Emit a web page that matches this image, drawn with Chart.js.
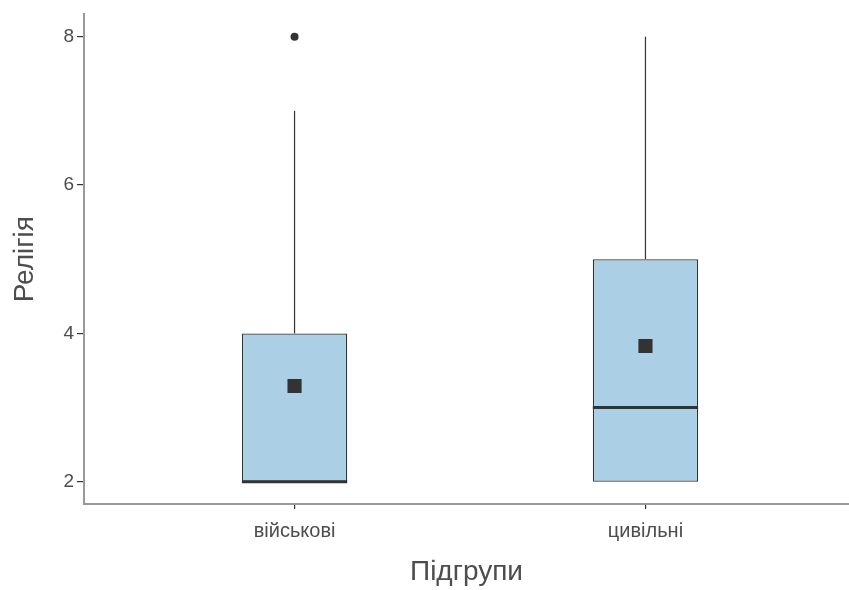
<!DOCTYPE html>
<html>
<head>
<meta charset="utf-8">
<script src="https://cdn.jsdelivr.net/npm/chart.js@4/dist/chart.umd.min.js"></script>
<style>
  html, body { margin: 0; padding: 0; background: #fff; overflow: hidden; }
  #wrap { width: 849px; height: 590px; }
</style>
</head>
<body>
<div id="wrap"><canvas id="chart-container"></canvas></div>
<script>
  const groups = ['військові', 'цивільні'];
  const q1 = [2, 2];
  const medians = [2, 3];
  const q3 = [4, 5];
  const whiskerLow = [2, 2];
  const whiskerHigh = [7, 8];
  const means = [3.29, 3.83];
  const outliers = [[8], []];
  const yTicks = [2, 4, 6, 8];

  const boxLine = '#333333';
  const textColor = '#4d4d4d';
  const font = "'Liberation Sans', Arial, sans-serif";

  // whiskers under the boxes, medians on top of them
  const boxPlotLines = {
    id: 'boxPlotLines',
    beforeDatasetsDraw(chart) {
      const meta = chart.getDatasetMeta(0);
      const y = chart.scales.y;
      const ctx = chart.ctx;
      ctx.save();
      ctx.strokeStyle = boxLine;
      ctx.lineWidth = 1.2;
      meta.data.forEach((bar, i) => {
        ctx.beginPath();
        ctx.moveTo(bar.x, y.getPixelForValue(q3[i]));
        ctx.lineTo(bar.x, y.getPixelForValue(whiskerHigh[i]));
        ctx.moveTo(bar.x, y.getPixelForValue(q1[i]));
        ctx.lineTo(bar.x, y.getPixelForValue(whiskerLow[i]));
        ctx.stroke();
      });
      ctx.restore();
    },
    afterDatasetDraw(chart, args) {
      if (args.index !== 0) return;
      const meta = args.meta;
      const y = chart.scales.y;
      const ctx = chart.ctx;
      ctx.save();
      ctx.strokeStyle = boxLine;
      ctx.lineWidth = 3;
      meta.data.forEach((bar, i) => {
        const py = y.getPixelForValue(medians[i]);
        ctx.beginPath();
        ctx.moveTo(bar.x - bar.width / 2, py);
        ctx.lineTo(bar.x + bar.width / 2, py);
        ctx.stroke();
      });
      ctx.restore();
    }
  };

  const boxData = groups.map((g, i) => ({ x: i + 1, y: [q1[i], q3[i]] }));
  const meanData = groups.map((g, i) => ({ x: i + 1, y: means[i] }));
  const outlierData = [];
  outliers.forEach((list, i) => list.forEach(v => outlierData.push({ x: i + 1, y: v })));

  new Chart(document.getElementById('chart-container'), {
    type: 'bar',
    data: {
      datasets: [
        {
          type: 'bar',
          data: boxData,
          backgroundColor: '#abd0e6',
          borderColor: boxLine,
          borderWidth: 1.3,
          borderSkipped: false,
          categoryPercentage: 0.3,
          barPercentage: 1,
          order: 3
        },
        {
          type: 'scatter',
          data: outlierData,
          pointStyle: 'circle',
          pointRadius: 4,
          backgroundColor: boxLine,
          borderWidth: 0,
          order: 2
        },
        {
          type: 'scatter',
          data: meanData,
          pointStyle: 'rect',
          pointRadius: 10,
          backgroundColor: boxLine,
          borderWidth: 0,
          order: 1
        }
      ]
    },
    options: {
      responsive: true,
      maintainAspectRatio: false,
      animation: false,
      layout: { autoPadding: false, padding: { top: 13, right: 0, left: 0, bottom: 0 } },
      plugins: { legend: { display: false }, tooltip: { enabled: false } },
      scales: {
        x: {
          type: 'linear',
          offset: false,
          min: 0.4,
          max: 2.58,
          afterBuildTicks: s => { s.ticks = groups.map((g, i) => ({ value: i + 1 })); },
          afterFit: s => { s.height = 86; s.paddingLeft = 0; s.paddingRight = 0; },
          ticks: {
            callback: v => groups[v - 1],
            color: textColor,
            font: { family: font, size: 20 },
            padding: 10,
            maxRotation: 0,
            autoSkip: false
          },
          grid: { offset: false, drawOnChartArea: false, drawTicks: true, tickLength: 5, color: boxLine, lineWidth: 1.2 },
          border: { display: true, color: '#9a9a9a', width: 2 },
          title: { display: true, text: 'Підгрупи', color: textColor, font: { family: font, size: 28 }, padding: { top: 0, bottom: 1 } }
        },
        y: {
          type: 'linear',
          min: 1.7,
          max: 8.3,
          afterBuildTicks: s => { s.ticks = yTicks.map(v => ({ value: v })); },
          afterFit: s => { s.width = 84; },
          ticks: {
            color: textColor,
            font: { family: font, size: 19 },
            padding: 3
          },
          grid: { drawOnChartArea: false, drawTicks: true, tickLength: 7, color: boxLine, lineWidth: 1.2 },
          border: { display: true, color: '#9a9a9a', width: 2 },
          title: { display: true, text: 'Релігія', color: textColor, font: { family: font, size: 28 }, padding: { top: 8, bottom: 0 } }
        }
      }
    },
    plugins: [boxPlotLines]
  });
</script>
</body>
</html>
